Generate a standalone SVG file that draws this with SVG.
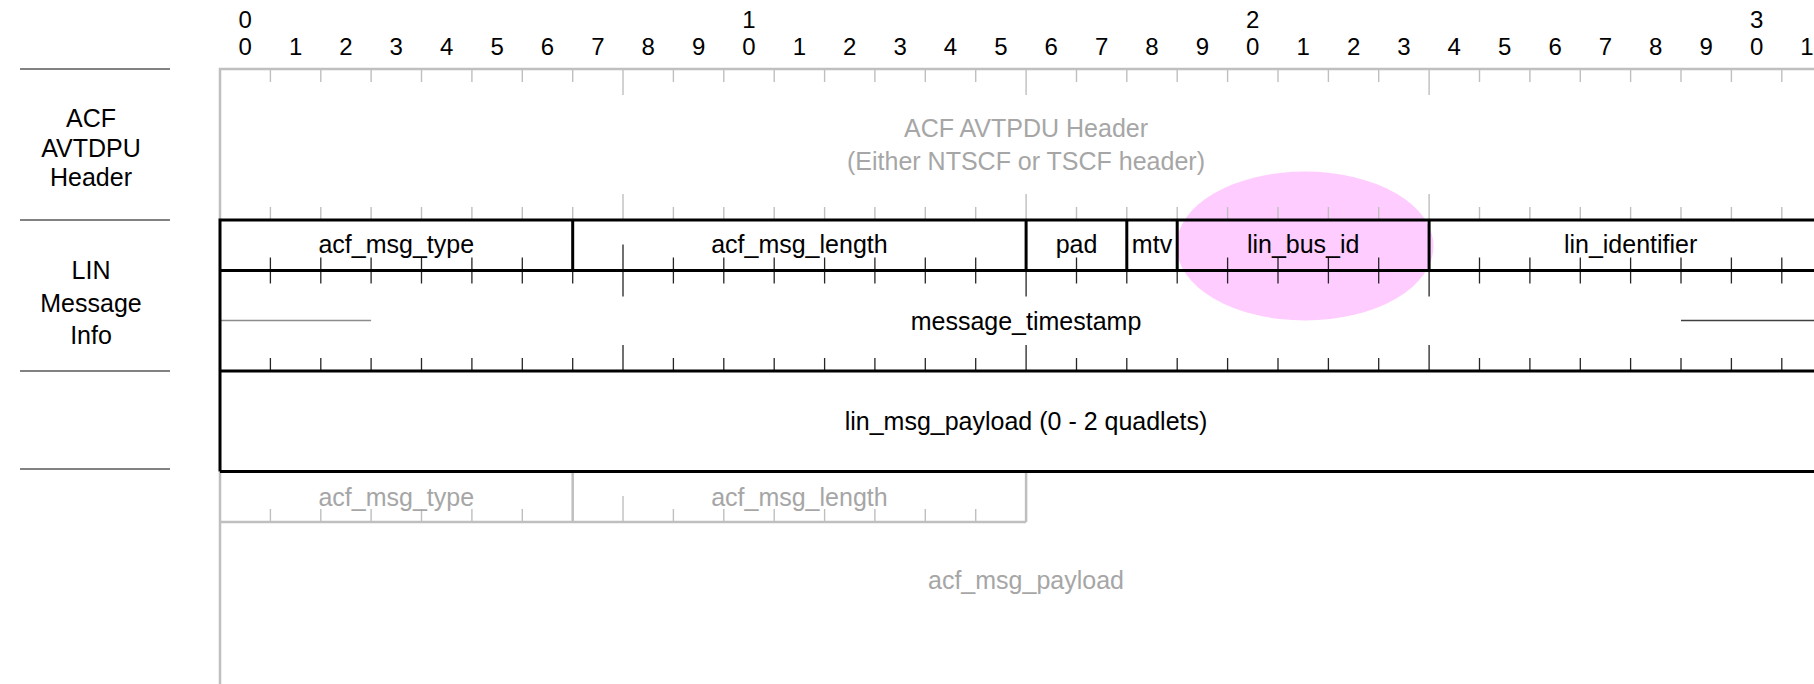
<svg xmlns="http://www.w3.org/2000/svg" width="1814" height="684" viewBox="0 0 1814 684">
<style>
text{font-family:"Liberation Sans",Arial,sans-serif;font-size:25px;text-anchor:middle;fill:#000}
text.g{fill:#a6a6a6}
text.d{font-size:24px}
.gl{stroke:#bfbfbf;stroke-width:2.5;fill:none}
.gt{stroke:#bfbfbf;stroke-width:1.4;fill:none}
.bl{stroke:#000;stroke-width:3;fill:none}
.bt{stroke:#262626;stroke-width:1.3;fill:none}
.sep{stroke:#595959;stroke-width:1.3;fill:none}
</style>
<rect width="1814" height="684" fill="#fff"/>
<g id="ruler">
<text class="d" x="245.2" y="28">0</text><text class="d" x="749" y="28">1</text><text class="d" x="1252.8" y="28">2</text><text class="d" x="1756.6" y="28">3</text>
<text class="d" x="245.2" y="55">0</text><text class="d" x="295.6" y="55">1</text><text class="d" x="346" y="55">2</text><text class="d" x="396.3" y="55">3</text><text class="d" x="446.7" y="55">4</text><text class="d" x="497.1" y="55">5</text><text class="d" x="547.5" y="55">6</text><text class="d" x="597.9" y="55">7</text><text class="d" x="648.2" y="55">8</text><text class="d" x="698.6" y="55">9</text><text class="d" x="749" y="55">0</text><text class="d" x="799.4" y="55">1</text><text class="d" x="849.8" y="55">2</text><text class="d" x="900.1" y="55">3</text><text class="d" x="950.5" y="55">4</text><text class="d" x="1000.9" y="55">5</text><text class="d" x="1051.3" y="55">6</text><text class="d" x="1101.7" y="55">7</text><text class="d" x="1152" y="55">8</text><text class="d" x="1202.4" y="55">9</text><text class="d" x="1252.8" y="55">0</text><text class="d" x="1303.2" y="55">1</text><text class="d" x="1353.6" y="55">2</text><text class="d" x="1403.9" y="55">3</text><text class="d" x="1454.3" y="55">4</text><text class="d" x="1504.7" y="55">5</text><text class="d" x="1555.1" y="55">6</text><text class="d" x="1605.5" y="55">7</text><text class="d" x="1655.8" y="55">8</text><text class="d" x="1706.2" y="55">9</text><text class="d" x="1756.6" y="55">0</text><text class="d" x="1807" y="55">1</text>
</g>
<g id="row-labels">
<path class="sep" d="M20 69H170M20 220H170M20 371H170M20 469H170"/>
<g id="label-acf"><text x="91" y="127">ACF</text><text x="91" y="156.5">AVTDPU</text><text x="91" y="186">Header</text></g>
<g id="label-lin"><text x="91" y="279">LIN</text><text x="91" y="311.5">Message</text><text x="91" y="344">Info</text></g>
</g>
<g id="acf-avtpdu">
<path class="gl" d="M220 220V69H1814M220 471.5V684"/>
<path class="gt" d="M270.4 69v13M320.8 69v13M371.1 69v13M421.5 69v13M471.9 69v13M522.3 69v13M572.7 69v13M623 69v26M673.4 69v13M723.8 69v13M774.2 69v13M824.6 69v13M874.9 69v13M925.3 69v13M975.7 69v13M1026.1 69v26M1076.5 69v13M1126.8 69v13M1177.2 69v13M1227.6 69v13M1278 69v13M1328.4 69v13M1378.7 69v13M1429.1 69v26M1479.5 69v13M1529.9 69v13M1580.3 69v13M1630.6 69v13M1681 69v13M1731.4 69v13M1781.8 69v13"/>
<text class="g" x="1026" y="137">ACF AVTPDU Header</text>
<text class="g" x="1026" y="170">(Either NTSCF or TSCF header)</text>
</g>
<g id="acf-payload">
<path class="gl" d="M572.7 471.5V522M1026.1 471.5V522M220 522H1026.1"/>
<path class="gt" d="M270.4 522v-13M320.8 522v-13M371.1 522v-13M421.5 522v-13M471.9 522v-13M522.3 522v-13M623 522v-26M673.4 522v-13M723.8 522v-13M774.2 522v-13M824.6 522v-13M874.9 522v-13M925.3 522v-13M975.7 522v-13"/>
<text class="g" x="396.3" y="506">acf_msg_type</text>
<text class="g" x="799.4" y="506">acf_msg_length</text>
<text class="g" x="1026" y="589">acf_msg_payload</text>
</g>
<ellipse id="highlight" cx="1305" cy="246" rx="128.5" ry="74.5" fill="#ffccff"/>
<g id="header-ticks">
<path class="gt" d="M270.4 220v-13M320.8 220v-13M371.1 220v-13M421.5 220v-13M471.9 220v-13M522.3 220v-13M572.7 220v-13M623 220v-26M673.4 220v-13M723.8 220v-13M774.2 220v-13M824.6 220v-13M874.9 220v-13M925.3 220v-13M975.7 220v-13M1026.1 220v-26M1076.5 220v-13M1126.8 220v-13M1177.2 220v-13M1227.6 220v-13M1278 220v-13M1328.4 220v-13M1378.7 220v-13M1429.1 220v-26M1479.5 220v-13M1529.9 220v-13M1580.3 220v-13M1630.6 220v-13M1681 220v-13M1731.4 220v-13M1781.8 220v-13"/>
</g>
<g id="lin-message">
<path class="bt" d="M270.4 257.5v26M320.8 257.5v26M371.1 257.5v26M421.5 257.5v26M471.9 257.5v26M522.3 257.5v26M572.7 257.5v26M623 244.5v52M673.4 257.5v26M723.8 257.5v26M774.2 257.5v26M824.6 257.5v26M874.9 257.5v26M925.3 257.5v26M975.7 257.5v26M1026.1 244.5v52M1076.5 257.5v26M1126.8 257.5v26M1177.2 257.5v26M1227.6 257.5v26M1278 257.5v26M1328.4 257.5v26M1378.7 257.5v26M1429.1 244.5v52M1479.5 257.5v26M1529.9 257.5v26M1580.3 257.5v26M1630.6 257.5v26M1681 257.5v26M1731.4 257.5v26M1781.8 257.5v26"/>
<path class="bt" d="M270.4 371v-13M320.8 371v-13M371.1 371v-13M421.5 371v-13M471.9 371v-13M522.3 371v-13M572.7 371v-13M623 371v-26M673.4 371v-13M723.8 371v-13M774.2 371v-13M824.6 371v-13M874.9 371v-13M925.3 371v-13M975.7 371v-13M1026.1 371v-26M1076.5 371v-13M1126.8 371v-13M1177.2 371v-13M1227.6 371v-13M1278 371v-13M1328.4 371v-13M1378.7 371v-13M1429.1 371v-26M1479.5 371v-13M1529.9 371v-13M1580.3 371v-13M1630.6 371v-13M1681 371v-13M1731.4 371v-13M1781.8 371v-13"/>
<path d="M220 320.5H371.1" stroke="#8c8c8c" stroke-width="1.3"/>
<path d="M1681 320.5H1814" stroke="#404040" stroke-width="1.3"/>
<path class="bl" d="M220 471.5V220H1814M220 270.5H1814M220 371H1814M220 471.5H1814"/>
<path class="bl" d="M572.7 220V270.5M1026.1 220V270.5M1126.8 220V270.5M1177.2 220V270.5M1429.1 220V270.5"/>
</g>
<g id="field-acf_msg_type"><text x="396.3" y="253">acf_msg_type</text></g>
<g id="field-acf_msg_length"><text x="799.4" y="253">acf_msg_length</text></g>
<g id="field-pad"><text x="1076.5" y="253">pad</text></g>
<g id="field-mtv"><text x="1152" y="253">mtv</text></g>
<g id="field-lin_bus_id"><text x="1303.2" y="253">lin_bus_id</text></g>
<g id="field-lin_identifier"><text x="1630.6" y="253">lin_identifier</text></g>
<g id="field-message_timestamp"><text x="1026" y="330">message_timestamp</text></g>
<g id="field-lin_msg_payload"><text x="1026" y="430">lin_msg_payload (0 - 2 quadlets)</text></g>
<g id="connectors"></g>
</svg>
